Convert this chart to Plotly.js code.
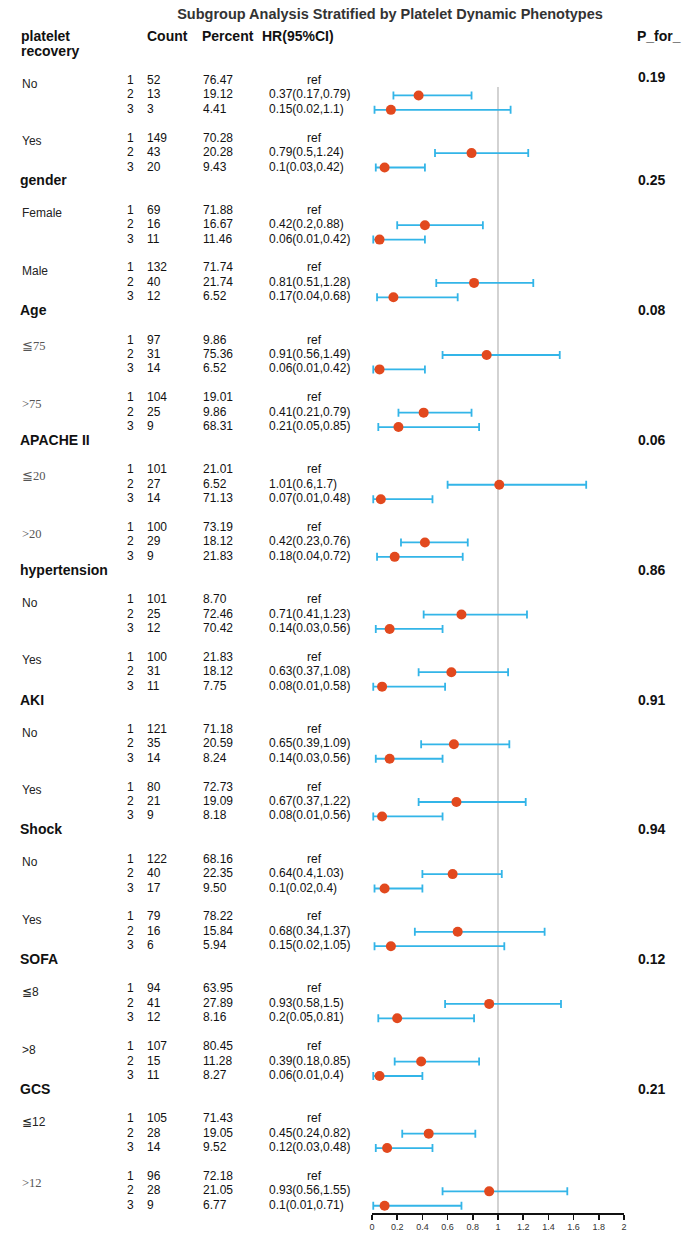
<!DOCTYPE html>
<html><head><meta charset="utf-8">
<script src="https://cdn.plot.ly/plotly-3.0.1.min.js"></script>
<style>html,body{margin:0;padding:0;background:#fff;}#chart{width:688px;height:1239px;}</style>
</head><body><div id="chart"></div>
<script>
// ---------------- data ----------------
const chartTitle = 'Subgroup Analysis Stratified by Platelet Dynamic Phenotypes';
const columnHeaders = ['Count', 'Percent', 'HR(95%CI)', 'P_for_'];
const groupNames = ['platelet\nrecovery', 'gender', 'Age', 'APACHE II', 'hypertension', 'AKI', 'Shock', 'SOFA', 'GCS'];
const groupP = ['0.19', '0.25', '0.08', '0.06', '0.86', '0.91', '0.94', '0.12', '0.21'];
const subgroupLabels = ['No', 'Yes', 'Female', 'Male', '≦75', '>75', '≦20', '>20', 'No', 'Yes',
  'No', 'Yes', 'No', 'Yes', '≦8', '>8', '≦12', '>12'];
const levelLabels = ['1', '2', '3'];
const counts = [[52,13,3],[149,43,20],[69,16,11],[132,40,12],[97,31,14],[104,25,9],[101,27,14],[100,29,9],
  [101,25,12],[100,31,11],[121,35,14],[80,21,9],[122,40,17],[79,16,6],[94,41,12],[107,15,11],[105,28,14],[96,28,9]];
const percents = [['76.47','19.12','4.41'],['70.28','20.28','9.43'],['71.88','16.67','11.46'],['71.74','21.74','6.52'],
  ['9.86','75.36','6.52'],['19.01','9.86','68.31'],['21.01','6.52','71.13'],['73.19','18.12','21.83'],
  ['8.70','72.46','70.42'],['21.83','18.12','7.75'],['71.18','20.59','8.24'],['72.73','19.09','8.18'],
  ['68.16','22.35','9.50'],['78.22','15.84','5.94'],['63.95','27.89','8.16'],['80.45','11.28','8.27'],
  ['71.43','19.05','9.52'],['72.18','21.05','6.77']];
// HR for levels 2 and 3 (level 1 = ref)
const hrEst = [[0.37,0.15],[0.79,0.1],[0.42,0.06],[0.81,0.17],[0.91,0.06],[0.41,0.21],[1.01,0.07],[0.42,0.18],
  [0.71,0.14],[0.63,0.08],[0.65,0.14],[0.67,0.08],[0.64,0.1],[0.68,0.15],[0.93,0.2],[0.39,0.06],[0.45,0.12],[0.93,0.1]];
const hrLow = [[0.17,0.02],[0.5,0.03],[0.2,0.01],[0.51,0.04],[0.56,0.01],[0.21,0.05],[0.6,0.01],[0.23,0.04],
  [0.41,0.03],[0.37,0.01],[0.39,0.03],[0.37,0.01],[0.4,0.02],[0.34,0.02],[0.58,0.05],[0.18,0.01],[0.24,0.03],[0.56,0.01]];
const hrHigh = [[0.79,1.1],[1.24,0.42],[0.88,0.42],[1.28,0.68],[1.49,0.42],[0.79,0.85],[1.7,0.48],[0.76,0.72],
  [1.23,0.56],[1.08,0.58],[1.09,0.56],[1.22,0.56],[1.03,0.4],[1.37,1.05],[1.5,0.81],[0.85,0.4],[0.82,0.48],[1.55,0.71]];
const xTicks = [0,0.2,0.4,0.6,0.8,1,1.2,1.4,1.6,1.8,2];

// ---------------- layout helpers ----------------
const W = 688, H = 1239;
const row0Px = 81, rowStep = 14.42, axisPx = 1213;
const rowAt = px => (px - row0Px) / rowStep;
const serifLabels = new Set(['≦75', '>75', '≦20', '>20', '>12']);
const SANS = 'Liberation Sans, Arial, Helvetica, sans-serif';
const SERIF = 'Liberation Serif, DejaVu Serif, serif';

function subgroupRow(i) {
  const g = Math.floor(i / 2), s = i % 2;
  if (g === 0) return s * 4;
  return 7 + (g - 1) * 9 + 2 + s * 4;
}
function groupRow(g) { return g === 0 ? null : 7 + (g - 1) * 9; }

const traces = [];
function textTrace(xs, ys, texts, font, pos) {
  traces.push({type: 'scatter', mode: 'text', xaxis: 'x2', yaxis: 'y', x: xs, y: ys, text: texts,
    textposition: pos || 'middle right', textfont: font, cliponaxis: false, hoverinfo: 'skip', showlegend: false});
}

// headers
textTrace([21, 21], [rowAt(37), rowAt(52)], groupNames[0].split('\n'), {family: SANS, size: 14, color: '#111', weight: 700});
textTrace([147, 202, 262, 637], [rowAt(37), rowAt(37), rowAt(37), rowAt(37)], columnHeaders, {family: SANS, size: 14, color: '#111', weight: 700});

// group headers and p values
const ghX = [], ghY = [], ghT = [], pX = [], pY = [];
groupNames.forEach((g, i) => {
  if (i > 0) { ghX.push(20); ghY.push(groupRow(i)); ghT.push(g); pX.push(638); pY.push(groupRow(i)); }
  else { pX.push(638); pY.push(-0.2); }
});
textTrace(ghX, ghY, ghT, {family: SANS, size: 14, color: '#111', weight: 700});
textTrace(pX, pY, groupP, {family: SANS, size: 14, color: '#111', weight: 700});

// subgroup labels
const sX = [], sY = [], sT = [], fX = [], fY = [], fT = [];
subgroupLabels.forEach((l, i) => {
  const r = subgroupRow(i) + 0.25;
  if (serifLabels.has(l)) { fX.push(22); fY.push(r + 0.2); fT.push(l); }
  else { sX.push(22); sY.push(r); sT.push(l); }
});
textTrace(sX, sY, sT, {family: SANS, size: 12, color: '#222'});
textTrace(fX, fY, fT, {family: SERIF, size: 12.5, color: '#555'});

// table body
const lvY = [], lvT = [], cT = [], pcT = [], hrT = [], hrY = [], refY = [];
subgroupLabels.forEach((l, i) => {
  const r0 = subgroupRow(i);
  for (let k = 0; k < 3; k++) {
    lvY.push(r0 + k); lvT.push(levelLabels[k]); cT.push(String(counts[i][k])); pcT.push(percents[i][k]);
    if (k === 0) refY.push(r0);
    else { hrY.push(r0 + k); hrT.push(`${hrEst[i][k-1]}(${hrLow[i][k-1]},${hrHigh[i][k-1]})`); }
  }
});
const bodyFont = {family: SANS, size: 12, color: '#111'};
textTrace(lvY.map(() => 127), lvY, lvT, bodyFont);
textTrace(lvY.map(() => 147), lvY, cT, bodyFont);
textTrace(lvY.map(() => 203), lvY, pcT, bodyFont);
textTrace(refY.map(() => 314), refY, refY.map(() => 'ref'), bodyFont, 'middle center');
textTrace(hrY.map(() => 269), hrY, hrT, bodyFont);

// forest points
const fx = [], fy = [], ePlus = [], eMinus = [];
subgroupLabels.forEach((l, i) => {
  for (let k = 0; k < 2; k++) {
    fx.push(hrEst[i][k]); fy.push(subgroupRow(i) + k + 1);
    ePlus.push(hrHigh[i][k] - hrEst[i][k]); eMinus.push(hrEst[i][k] - hrLow[i][k]);
  }
});
traces.push({type: 'scatter', mode: 'markers', xaxis: 'x', yaxis: 'y', x: fx, y: fy,
  marker: {color: '#E2491E', size: 10},
  error_x: {type: 'data', symmetric: false, array: ePlus, arrayminus: eMinus, color: '#33B5E8', thickness: 1.8, width: 4},
  cliponaxis: false, hoverinfo: 'skip', showlegend: false});

const layout = {
  width: W, height: H,
  margin: {l: 0, r: 0, t: 0, b: H - axisPx},
  paper_bgcolor: '#fff', plot_bgcolor: 'rgba(0,0,0,0)',
  showlegend: false,
  title: {text: chartTitle, x: 390 / W, xanchor: 'center', y: 1 - 14 / H, yanchor: 'middle', yref: 'container',
    font: {family: SANS, size: 14.5, color: '#333', weight: 700}},
  xaxis: {domain: [372 / W, 624 / W], range: [0, 2], anchor: 'y', tickvals: xTicks, ticktext: xTicks.map(String),
    showline: true, linecolor: '#111', linewidth: 1.5, ticks: 'outside', ticklen: 5, tickwidth: 1.5, tickcolor: '#111',
    showgrid: false, zeroline: false, tickfont: {family: SANS, size: 9, color: '#333'}, fixedrange: true},
  xaxis2: {domain: [0, 1], range: [0, W], anchor: 'y', visible: false, fixedrange: true},
  yaxis: {range: [rowAt(axisPx), rowAt(0)], visible: false, showgrid: false, zeroline: false, fixedrange: true},
  shapes: [{type: 'line', xref: 'x', yref: 'y', x0: 1, x1: 1, y0: rowAt(87), y1: rowAt(axisPx),
    line: {color: '#b5b5b5', width: 1.2}, layer: 'below'}]
};
Plotly.newPlot('chart', traces, layout, {staticPlot: true, displayModeBar: false});
</script></body></html>
